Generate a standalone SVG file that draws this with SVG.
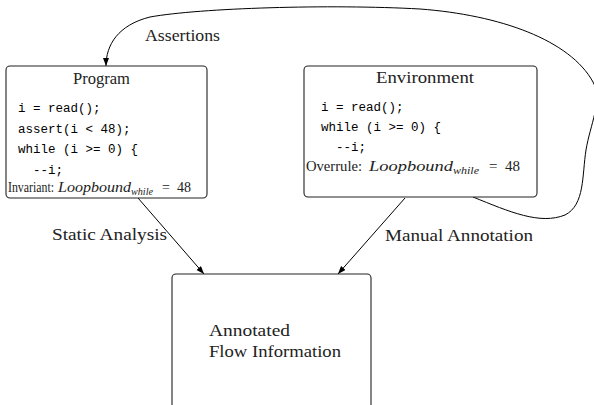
<svg xmlns="http://www.w3.org/2000/svg" width="594" height="405" viewBox="0 0 594 405">
<defs>
<marker id="ah" markerWidth="9" markerHeight="7" refX="8" refY="3" orient="auto" markerUnits="userSpaceOnUse">
<path d="M0,0 L8,3 L0,6 z" fill="#000"/>
</marker>
<style>
.box{fill:#fff;stroke:#222;stroke-width:1.1}
.lbl{font-family:"Liberation Serif",serif;font-size:17px;fill:#222}
.code{font-family:"Liberation Mono",monospace;font-size:12.5px;fill:#000}
.note{font-family:"Liberation Serif",serif;fill:#222}
.it{font-style:italic}
.edge{fill:none;stroke:#000;stroke-width:1}
</style>
</defs>
<rect width="594" height="405" fill="#fff"/>
<g id="connectors">
<path class="edge" d="M473,197 C510,212 540,225 565,215 C585,205 582,175 586,150 C590,125 603,100 593,82 C570,40 500,15 420,9 C330,4 200,8 150,17 C118,25 106,45 106,66" marker-end="url(#ah)"/>
<line class="edge" x1="138" y1="198" x2="204" y2="274" marker-end="url(#ah)"/>
<line class="edge" x1="405" y1="198" x2="338" y2="274" marker-end="url(#ah)"/>
<text class="lbl" x="145" y="41" textLength="75" lengthAdjust="spacingAndGlyphs">Assertions</text>
<text class="lbl" x="52" y="240" textLength="115" lengthAdjust="spacingAndGlyphs">Static Analysis</text>
<text class="lbl" x="385" y="241" textLength="148" lengthAdjust="spacingAndGlyphs">Manual Annotation</text>
</g>
<g id="program">
<rect class="box" x="6" y="66" width="201" height="132" rx="4"/>
<text class="lbl" x="73" y="84" textLength="57" lengthAdjust="spacingAndGlyphs">Program</text>
<text class="code" x="18" y="112">i = read();</text>
<text class="code" x="18" y="132.5">assert(i &lt; 48);</text>
<text class="code" x="18" y="153">while (i &gt;= 0) {</text>
<text class="code" x="33" y="173.5">--i;</text>
<text class="note" font-size="14" x="8" y="192" textLength="46" lengthAdjust="spacingAndGlyphs">Invariant:</text>
<text class="note it" font-size="14" x="58" y="192" textLength="73" lengthAdjust="spacingAndGlyphs">Loopbound</text>
<text class="note it" font-size="10" x="131" y="194.5" textLength="22" lengthAdjust="spacingAndGlyphs">while</text>
<text class="note" font-size="14" x="162" y="192">=</text>
<text class="note" font-size="14" x="177" y="192">48</text>
</g>
<g id="environment">
<rect class="box" x="304" y="66" width="233" height="131" rx="4"/>
<text class="lbl" x="376" y="83" textLength="98" lengthAdjust="spacingAndGlyphs">Environment</text>
<text class="code" x="321" y="111">i = read();</text>
<text class="code" x="321" y="131">while (i &gt;= 0) {</text>
<text class="code" x="336" y="151">--i;</text>
<text class="note" font-size="15" x="306" y="171" textLength="56" lengthAdjust="spacingAndGlyphs">Overrule:</text>
<text class="note it" font-size="15" x="369" y="171" textLength="84" lengthAdjust="spacingAndGlyphs">Loopbound</text>
<text class="note it" font-size="11" x="453" y="174" textLength="26" lengthAdjust="spacingAndGlyphs">while</text>
<text class="note" font-size="15" x="489" y="171">=</text>
<text class="note" font-size="15" x="505" y="171">48</text>
</g>
<g id="flowinfo">
<rect class="box" x="172" y="274" width="199" height="145" rx="4"/>
<text class="lbl" x="209" y="336" textLength="81" lengthAdjust="spacingAndGlyphs">Annotated</text>
<text class="lbl" x="209" y="357" textLength="132" lengthAdjust="spacingAndGlyphs">Flow Information</text>
</g>
</svg>
